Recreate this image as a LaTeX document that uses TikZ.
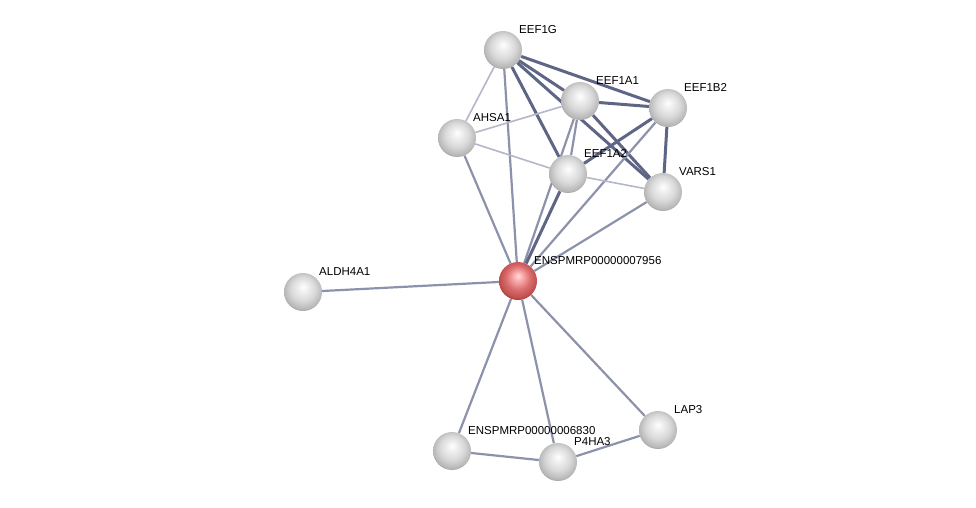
\documentclass[tikz,border=0pt]{standalone}
\usepackage{fontspec}
\setmainfont{Liberation Sans}
\usetikzlibrary{shadings}
\pgfdeclarelayer{edges}
\pgfsetlayers{edges,main}
\definecolor{edgedark}{HTML}{5E6585}
\definecolor{edgemid}{HTML}{8C92AB}
\definecolor{edgelight}{HTML}{B3B7C9}
\pgfdeclareradialshading{greyball}{\pgfpoint{0bp}{7bp}}{%
  color(0bp)=(white); color(5bp)=(white!95!black); color(16bp)=(black!15);
  color(25bp)=(black!28); color(30bp)=(black!45); color(40bp)=(black!45)}
\pgfdeclareradialshading{redball}{\pgfpoint{0bp}{7bp}}{%
  color(0bp)=(red!12!white); color(5bp)=(red!30!white); color(16bp)=(red!50!white!85!black);
  color(25bp)=(red!60!white!75!black); color(30bp)=(red!60!black); color(40bp)=(red!60!black)}

\tikzset{
  prot/.style={circle, minimum size=38pt, inner sep=0pt, shading=greyball},
  query/.style={prot, shading=redball},
  lbl/.style={font=\fontsize{11.5}{13}\selectfont, inner sep=1pt},
  strong/.style={line width=3pt, color=edgedark},
  medium/.style={line width=2.2pt, color=edgemid},
  weak/.style={line width=1.6pt, color=edgelight}
}

\begin{document}
\begin{tikzpicture}[x=1pt, y=-1pt]
            \useasboundingbox (0,0) rectangle (976,508);
            \begin{scope}[every label/.style={lbl}, label distance=2pt]
                % proteins
                \node[prot, label={45:EEF1G}]  (eef1g)  at (503,50)  {};
                \node[prot, label={45:EEF1A1}] (eef1a1) at (580,101) {};
                \node[prot, label={45:EEF1B2}] (eef1b2) at (668,108) {};
                \node[prot, label={45:AHSA1}]  (ahsa1)  at (457,138) {};
                \node[prot, label={45:EEF1A2}] (eef1a2) at (568,174) {};
                \node[prot, label={45:VARS1}]  (vars1)  at (663,192) {};
                \node[query, label={45:ENSPMRP00000007956}] (q7956) at (518,281) {};
                \node[prot, label={45:ALDH4A1}] (aldh4a1) at (303,292) {};
                \node[prot, label={45:LAP3}]   (lap3)   at (658,430) {};
                \node[prot, label={45:ENSPMRP00000006830}] (p6830) at (452,451) {};
                \node[prot, label={45:P4HA3}]  (p4ha3)  at (558,462) {};
            \end{scope}

            \begin{pgfonlayer}{edges}
                % top cluster
                \draw[strong] (eef1g) -- (eef1a1);
                \draw[strong] (eef1g) -- (eef1b2);
                \draw[strong] (eef1g) -- (eef1a2);
                \draw[strong] (eef1g) -- (vars1);
                \draw[weak]   (eef1g) -- (ahsa1);
                \draw[medium] (eef1g) -- (q7956);
                \draw[strong] (eef1a1) -- (eef1b2);
                \draw[strong] (eef1a1) -- (vars1);
                \draw[medium] (eef1a1) -- (eef1a2);
                \draw[weak]   (eef1a1) -- (ahsa1);
                \draw[medium] (eef1a1) -- (q7956);
                \draw[strong] (eef1b2) -- (eef1a2);
                \draw[strong] (eef1b2) -- (vars1);
                \draw[medium] (eef1b2) -- (q7956);
                \draw[weak]   (ahsa1) -- (eef1a2);
                \draw[weak]   (eef1a2) -- (vars1);
                \draw[medium] (ahsa1) -- (q7956);
                \draw[strong] (eef1a2) -- (q7956);
                \draw[medium] (vars1) -- (q7956);
                % lower part
                \draw[medium] (aldh4a1) -- (q7956);
                \draw[medium] (q7956) -- (lap3);
                \draw[medium] (q7956) -- (p6830);
                \draw[medium] (q7956) -- (p4ha3);
                \draw[medium] (p6830) -- (p4ha3);
                \draw[medium] (p4ha3) -- (lap3);
            \end{pgfonlayer}
        \end{tikzpicture}
\end{document}
